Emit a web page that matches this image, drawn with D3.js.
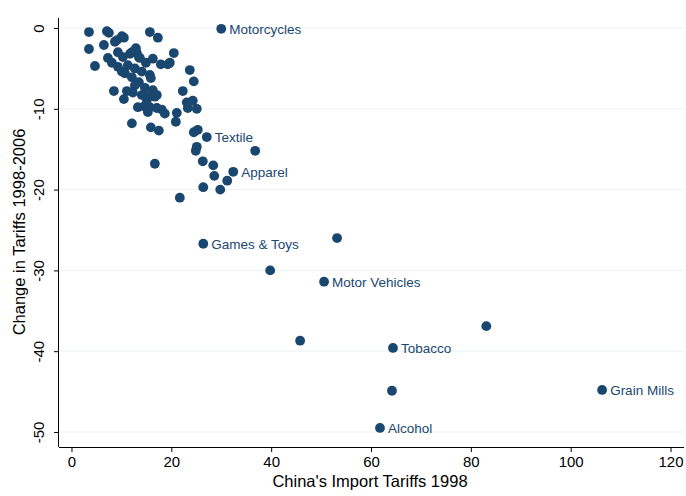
<!DOCTYPE html>
<html><head><meta charset="utf-8">
<script src="https://cdn.jsdelivr.net/npm/d3@7"></script>
<style>body{margin:0;background:#fff}svg{display:block}text{font-family:"Liberation Sans",Arial,sans-serif}</style>
</head><body><svg id="c" width="686" height="496"></svg>
<script>
const tariff1998 = [3.5,3.5,4.7,6.5,7.1,7.5,7.3,8.1,8.7,9.1,10.1,10.5,9.3,9.3,10.3,10.7,11.3,11.7,12.1,12.9,13.1,13.5,12.7,13.7,14.9,15.7,17.3,16.3,17.9,19.3,20.5,14.1,15.7,15.9,10.1,12.1,13.5,12.7,14.7,8.5,11.1,12.3,10.5,14.1,15.3,16.7,13.3,15.7,17.1,18.1,18.7,15.3,12.1,15.9,17.5,16.7,21.1,20.9,22.3,23.1,24.3,23.3,25.1,23.7,24.5,19.7,24.5,25.3,27.1,25.1,24.9,36.8,26.3,28.4,28.6,31.2,32.4,26.4,29.8,21.7,30.0,15.1,14.5,16.3,17.1,26.4,39.8,50.6,53.2,45.8,64.4,83.1,64.2,106.3,61.8];
const tariffChange = [-0.5,-2.6,-4.7,-2.1,-0.4,-0.6,-3.7,-4.3,-1.7,-1.5,-1.0,-1.2,-3.0,-4.8,-3.6,-5.6,-4.6,-3.2,-3.0,-2.5,-3.1,-3.6,-5.0,-3.7,-4.3,-0.5,-1.2,-3.8,-4.5,-4.5,-3.1,-5.4,-5.8,-6.2,-5.4,-6.1,-6.7,-7.1,-7.4,-7.8,-7.8,-8.0,-8.8,-8.3,-8.5,-8.5,-9.8,-9.8,-9.9,-10.1,-10.6,-10.4,-11.8,-12.3,-12.7,-16.8,-10.5,-11.6,-7.8,-9.2,-9.0,-9.9,-10.0,-5.2,-6.6,-4.3,-12.9,-12.6,-13.5,-14.7,-15.2,-15.2,-16.5,-17.0,-18.3,-18.9,-17.8,-19.7,-20.0,-21.0,-0.1,-8.9,-9.7,-7.7,-8.3,-26.7,-30.0,-31.4,-26.0,-38.7,-39.6,-36.9,-44.9,-44.8,-49.5];
const industryLabels = ["Motorcycles","Textile","Apparel","Games & Toys","Motor Vehicles","Tobacco","Grain Mills","Alcohol"];
const labelIndex = [80,68,76,85,87,90,93,94];
const xTicks = [0,20,40,60,80,100,120];
const yTicks = [0,-10,-20,-30,-40,-50];
const xTitle = "China's Import Tariffs 1998";
const yTitle = "Change in Tariffs 1998-2006";

const navy = "#1a476f";
const svg = d3.select("#c");
const x = d3.scaleLinear().domain([-2.5, 122.7]).range([59, 684]);
const y = d3.scaleLinear().domain([1.24, -51.86]).range([18, 447]);

// grid
svg.append("g").selectAll("line").data(yTicks).join("line")
  .attr("x1", 59).attr("x2", 684)
  .attr("y1", d => y(d)).attr("y2", d => y(d))
  .attr("stroke", "#eaf2f3").attr("stroke-width", 1);

// axes
const gx = svg.append("g").attr("transform", "translate(0,447)")
  .call(d3.axisBottom(x).tickValues(xTicks).tickSize(5).tickPadding(4).tickFormat(d => String(d)));
gx.select(".domain").attr("d", "M59,0.5H684").attr("stroke", "#000");
gx.selectAll(".tick line").attr("stroke", "#000");
gx.selectAll("text").attr("font-size", 15).attr("fill", "#000").style("font-family", "Liberation Sans, Arial, sans-serif");

const gy = svg.append("g").attr("transform", "translate(59,0)")
  .call(d3.axisLeft(y).tickValues(yTicks).tickSize(5).tickPadding(4).tickFormat(d => String(d)));
gy.select(".domain").attr("d", "M-0.5,18V447").attr("stroke", "#000");
gy.selectAll(".tick line").attr("stroke", "#000");
gy.selectAll("text").attr("font-size", 15).attr("fill", "#000")
  .attr("x", null).attr("dy", null)
  .attr("text-anchor", "middle")
  .attr("transform", "translate(-15,0) rotate(-90)")
  .style("font-family", "Liberation Sans, Arial, sans-serif");

// titles
svg.append("text").attr("x", 370).attr("y", 487).attr("text-anchor", "middle")
  .attr("font-size", 16.5).attr("fill", "#000").text(xTitle);
svg.append("text").attr("transform", "translate(25,232) rotate(-90)").attr("text-anchor", "middle")
  .attr("font-size", 16.5).attr("fill", "#000").text(yTitle);

// points
const pts = tariff1998.map((v, i) => ({x: v, y: tariffChange[i]}));
svg.append("g").selectAll("circle").data(pts).join("circle")
  .attr("cx", d => x(d.x)).attr("cy", d => y(d.y)).attr("r", 4.9)
  .attr("fill", navy);

// labels
svg.append("g").selectAll("text").data(labelIndex).join("text")
  .attr("x", (d) => x(tariff1998[d]) + 8)
  .attr("y", (d) => y(tariffChange[d]) + 5)
  .attr("font-size", 13.5).attr("fill", navy)
  .text((d, i) => industryLabels[i]);
</script></body></html>
